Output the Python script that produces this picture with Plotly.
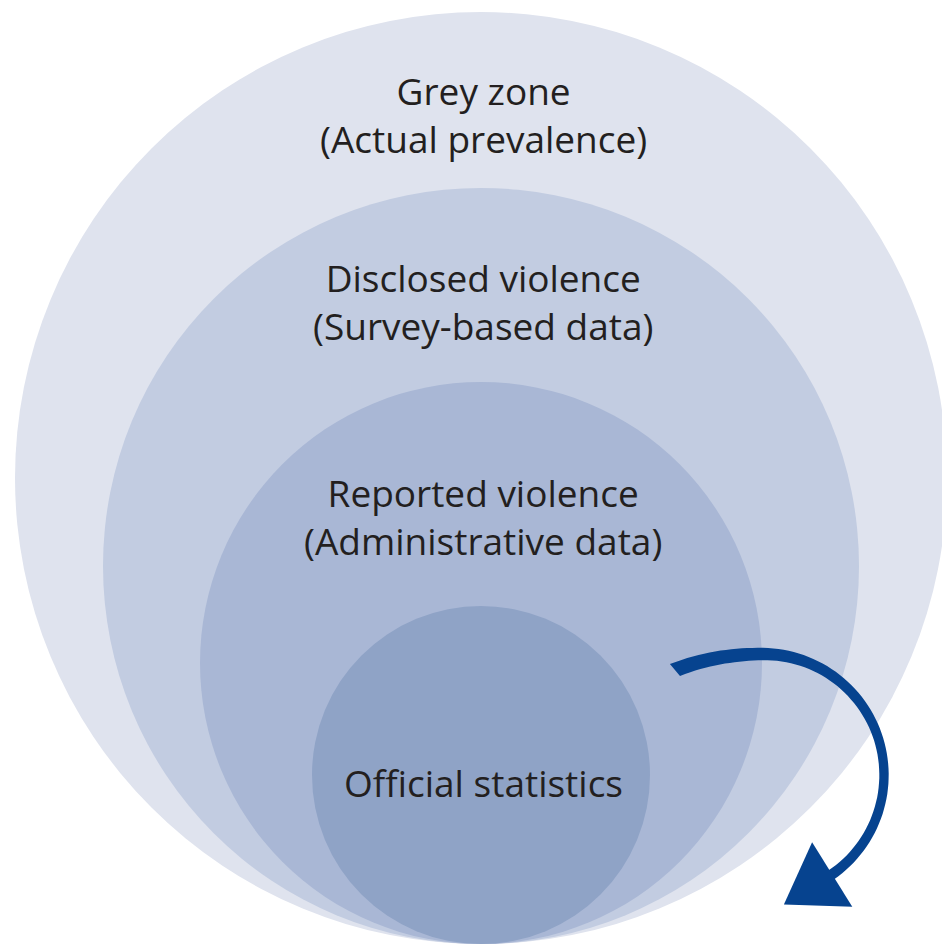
import math
import plotly.graph_objects as go

# ---- data ----
labels = [
    "Grey zone<br>(Actual prevalence)",
    "Disclosed violence<br>(Survey-based data)",
    "Reported violence<br>(Administrative data)",
    "Official statistics",
]
radii = [466, 378, 281, 169]          # circle radii (px units of the canvas)
label_y = [114, 301, 516, 782]        # vertical centre of each label

# ---- style / layout ----
W, H = 942, 951
CX = 481
BOTTOM = 944
colors = ["#dfe3ee", "#c2cce1", "#a9b7d5", "#8fa3c6"]
text_color = "#231f20"
font_family = "Open Sans"
font_size = 37
arrow_color = "#06438f"

fig = go.Figure()

shapes = []
for r, c in zip(radii, colors):
    cy = BOTTOM - r
    shapes.append(dict(type="circle", xref="x", yref="y",
                       x0=CX - r, x1=CX + r, y0=cy - r, y1=cy + r,
                       fillcolor=c, line=dict(width=0), layer="above"))

# curved arrow (decorative) built from an arc
acx, acy = 763, 775
a0, a1 = math.radians(130), math.radians(-58)
n = 80
outer, inner = [], []
for i in range(n + 1):
    s = i / n
    th = a0 + (a1 - a0) * s
    deg = math.degrees(th)
    r = 121 + 16 * max(0.0, (deg - 90) / 40) ** 2
    hw = 7.8 - 9.0 * s + 6.5 * s * s
    ox = acx + (r + hw) * math.cos(th)
    oy = acy - (r + hw) * math.sin(th)
    ix = acx + (r - hw) * math.cos(th)
    iy = acy - (r - hw) * math.sin(th)
    outer.append((ox, oy))
    inner.append((ix, iy))
pts = outer + inner[::-1]
path = "M " + " L ".join(f"{x:.1f},{y:.1f}" for x, y in pts) + " Z"
shapes.append(dict(type="path", xref="x", yref="y", path=path,
                   fillcolor=arrow_color, line=dict(width=0), layer="above"))

# arrow head
th = a1
ex = acx + 121 * math.cos(th)
ey = acy - 121 * math.sin(th)
dx, dy = math.sin(th), math.cos(th)   # clockwise tangent in screen coords
dlen = math.hypot(dx, dy)
dx, dy = dx / dlen, dy / dlen
nx, ny = -dy, dx
bx, by = ex - dx * 6, ey - dy * 6
p1 = (bx + nx * 38, by + ny * 38)
p2 = (bx - nx * 38, by - ny * 38)
tip = (bx + dx * 57, by + dy * 57)
head = f"M {p1[0]:.1f},{p1[1]:.1f} L {tip[0]:.1f},{tip[1]:.1f} L {p2[0]:.1f},{p2[1]:.1f} Z"
shapes.append(dict(type="path", xref="x", yref="y", path=head,
                   fillcolor=arrow_color, line=dict(width=0), layer="above"))

annotations = []
for lab, y in zip(labels, label_y):
    annotations.append(dict(x=CX + 2, y=y, xref="x", yref="y", text=lab,
                            showarrow=False, xanchor="center", yanchor="middle",
                            font=dict(family=font_family, size=font_size, color=text_color)))

fig.update_layout(
    width=W, height=H,
    margin=dict(l=0, r=0, t=0, b=0),
    paper_bgcolor="white", plot_bgcolor="white",
    xaxis=dict(range=[0, W], visible=False, fixedrange=True),
    yaxis=dict(range=[H, 0], visible=False, fixedrange=True),
    shapes=shapes, annotations=annotations, showlegend=False,
)

fig.write_html("out.html", config={"displayModeBar": False},
               post_script="document.body.style.margin='0';")
